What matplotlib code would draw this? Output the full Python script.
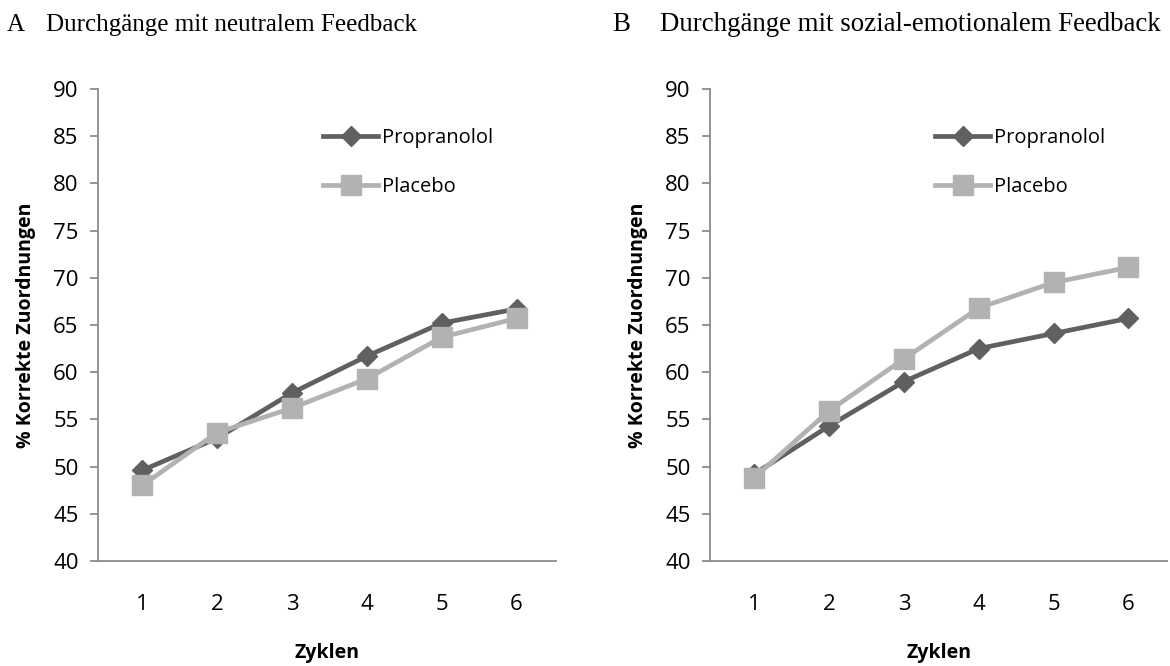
import matplotlib
matplotlib.use('Agg')
import matplotlib.pyplot as plt

# Daten
zyklen = [1, 2, 3, 4, 5, 6]
neutral_propranolol = [49.6, 53.0, 57.8, 61.7, 65.2, 66.7]
neutral_placebo = [48.0, 53.6, 56.2, 59.3, 63.7, 65.7]
sozial_propranolol = [49.2, 54.3, 59.0, 62.5, 64.1, 65.7]
sozial_placebo = [48.8, 55.9, 61.4, 66.8, 69.5, 71.1]

panel_letters = ['A', 'B']
panel_titles = ['Durchgänge mit neutralem Feedback',
                'Durchgänge mit sozial-emotionalem Feedback']
y_ticks = list(range(40, 95, 5))

DARK = '#606060'
LIGHT = '#b2b2b2'
AXIS = '#8c8c8c'
SANS = ['Open Sans', 'DejaVu Sans']
SERIF = ['Liberation Serif', 'DejaVu Serif']

fig = plt.figure(figsize=(11.7, 6.66), dpi=100)

panels = [
    (0.0838, neutral_propranolol, neutral_placebo),
    (0.6068, sozial_propranolol, sozial_placebo),
]

for i, (left, prop, plac) in enumerate(panels):
    ax = fig.add_axes([left, 0.1577, 0.391, 0.7087])
    ax.plot(zyklen, prop, color=DARK, lw=3.4, marker='D', ms=10.5,
            mec=DARK, mfc=DARK, label='Propranolol', zorder=2)
    ax.plot(zyklen, plac, color=LIGHT, lw=3.4, marker='s', ms=14,
            mec=LIGHT, mfc=LIGHT, label='Placebo', zorder=3)
    ax.set_xlim(0.41, 6.52)
    ax.set_ylim(40, 90)
    ax.set_yticks(y_ticks)
    ax.set_xticks(zyklen)
    for s in ['top', 'right']:
        ax.spines[s].set_visible(False)
    for s in ['left', 'bottom']:
        ax.spines[s].set_color(AXIS)
        ax.spines[s].set_linewidth(1.3)
    ax.tick_params(axis='y', direction='out', length=6, width=1.3,
                   color=AXIS, pad=8, labelsize=16)
    ax.tick_params(axis='x', length=0, pad=24, labelsize=16)
    for lab in ax.get_xticklabels() + ax.get_yticklabels():
        lab.set_family(SANS)
    ax.set_xlabel('Zyklen', family=SANS, fontsize=14, fontweight='bold',
                  labelpad=20)
    ax.set_ylabel('% Korrekte Zuordnungen', family=SANS, fontsize=14,
                  fontweight='bold', labelpad=12)

    ax.legend(loc='upper left', bbox_to_anchor=(0.474, 0.934),
              frameon=False, handlelength=2.75, handletextpad=0.2,
              labelspacing=1.45, prop={'family': SANS, 'size': 14.5},
              borderaxespad=0)

# Überschriften
fig.text(0.006, 0.953, panel_letters[0], family=SERIF, fontsize=18,
         va='baseline')
fig.text(0.039, 0.953, panel_titles[0], family=SERIF, fontsize=18,
         va='baseline')
fig.text(0.523, 0.953, panel_letters[1], family=SERIF, fontsize=19.4,
         va='baseline')
fig.text(0.564, 0.953, panel_titles[1], family=SERIF, fontsize=19.4,
         va='baseline')

fig.savefig('out.png', dpi=100)
